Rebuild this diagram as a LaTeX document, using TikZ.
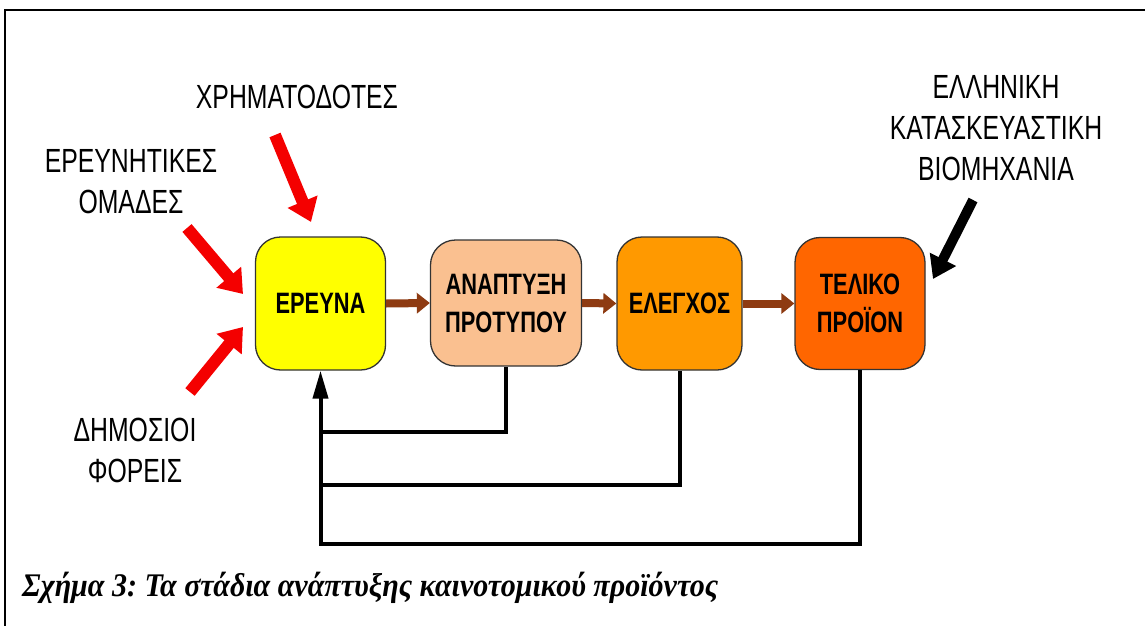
\documentclass[tikz,border=0pt]{standalone}
\usepackage{fontspec}
\usetikzlibrary{arrows.meta,calc}
\newfontfamily\labfont[FakeStretch=0.74]{Liberation Sans}
\newfontfamily\boxfont[FakeStretch=0.74]{Liberation Sans}
\newfontfamily\capfont[FakeStretch=0.91]{Liberation Serif}
\definecolor{peach}{HTML}{FAC090}
\definecolor{orangeA}{HTML}{FF9900}
\definecolor{orangeB}{HTML}{FF6600}
\definecolor{yel}{HTML}{FFFF00}
\definecolor{brownarr}{HTML}{8E3B12}
\definecolor{redarr}{HTML}{F40000}
\frenchspacing
\begin{document}
\begin{tikzpicture}[x=1pt,y=-1pt,
  stage/.style={draw=black!80, line width=1.3pt, rounded corners=25pt,
    align=center, inner sep=0pt,
    font=\boxfont\bfseries\fontsize{29.5}{38}\selectfont},
  lab/.style={align=center, inner sep=0pt,
    font=\labfont\fontsize{33.5}{41}\selectfont},
  redarrow/.style={draw=redarr, line width=12pt,
    -{Triangle[length=22pt,width=31pt]}},
  blackarrow/.style={draw=black, line width=10pt,
    -{Triangle[length=22pt,width=28pt]}},
  brownarrow/.style={draw=brownarr, line width=8pt,
    -{Triangle[length=13pt,width=20pt]}},
  fb/.style={draw=black, line width=4pt, line join=miter},
  fbshadow/.style={draw=black!25, line width=4pt, line join=miter}
]
\useasboundingbox (0,0) rectangle (1145,626);
% frame
\draw[line width=2pt] (1146,10) -- (5,10) -- (5,627);

% stages
\node[stage, fill=yel, minimum width=130pt, minimum height=133pt] (erevna) at (320.5,303.5) {ΕΡΕΥΝΑ};
\node[stage, fill=peach, minimum width=151pt, minimum height=126pt] (anap) at (506,303) {ΑΝΑΠΤΥΞΗ\\ΠΡΟΤΥΠΟΥ};
\node[stage, fill=orangeA, minimum width=125pt, minimum height=133pt] (elegxos) at (679.5,303.5) {ΕΛΕΓΧΟΣ};
\node[stage, fill=orangeB, minimum width=130pt, minimum height=132pt] (teliko) at (860,303.5) {ΤΕΛΙΚΟ\\ΠΡΟΪΟΝ};

% labels
\node[lab] (xrim) at (297,97) {ΧΡΗΜΑΤΟΔΟΤΕΣ};
\node[lab] (omades) at (131,182) {ΕΡΕΥΝΗΤΙΚΕΣ\\ΟΜΑΔΕΣ};
\node[lab] (dimosioi) at (135,450) {ΔΗΜΟΣΙΟΙ\\ΦΟΡΕΙΣ};
\node[lab] (viom) at (996,128) {ΕΛΛΗΝΙΚΗ\\ΚΑΤΑΣΚΕΥΑΣΤΙΚΗ\\ΒΙΟΜΗΧΑΝΙΑ};

% input arrows
\coordinate (r1t) at (275,135); \coordinate (r1h) at (311,222);
\coordinate (r2t) at (187,228); \coordinate (r2h) at (243,294);
\coordinate (r3t) at (190,392); \coordinate (r3h) at (243,327);
\coordinate (bt) at (973,200);  \coordinate (bh) at (933,279);
\draw[redarrow] (r1t) -- (r1h);
\draw[redarrow] (r2t) -- (r2h);
\draw[redarrow] (r3t) -- (r3h);
\draw[blackarrow] (bt) -- (bh);

% flow arrows
\draw[brownarrow] (erevna.east) -- (anap.west);
\draw[brownarrow] (anap.east) -- (elegxos.west);
\draw[brownarrow] (elegxos.east) -- (teliko.west);

% feedback
\coordinate (y1) at (0,432);
\coordinate (y2) at (0,485);
\coordinate (y3) at (0,544);
\begin{scope}[shift={(1.5,2)}]
\draw[fbshadow] (anap.south) |- (erevna.south |- y1);
\draw[fbshadow] (elegxos.south) |- (erevna.south |- y2);
\draw[fbshadow] (teliko.south) |- (erevna.south |- y3);
\end{scope}
\draw[fb] (anap.south) |- (erevna.south |- y1);
\draw[fb] (elegxos.south) |- (erevna.south |- y2);
\draw[fb,-{Triangle[length=28pt,width=15pt]}] (teliko.south) |- (erevna.south |- y3) -- (erevna.south);

% caption
\node[anchor=base west, inner sep=0pt, font=\capfont\bfseries\itshape\fontsize{33}{36}\selectfont] (caption) at (22,596) {Σχήμα 3: Τα στάδια ανάπτυξης καινοτομικού προϊόντος};
\end{tikzpicture}
\end{document}
